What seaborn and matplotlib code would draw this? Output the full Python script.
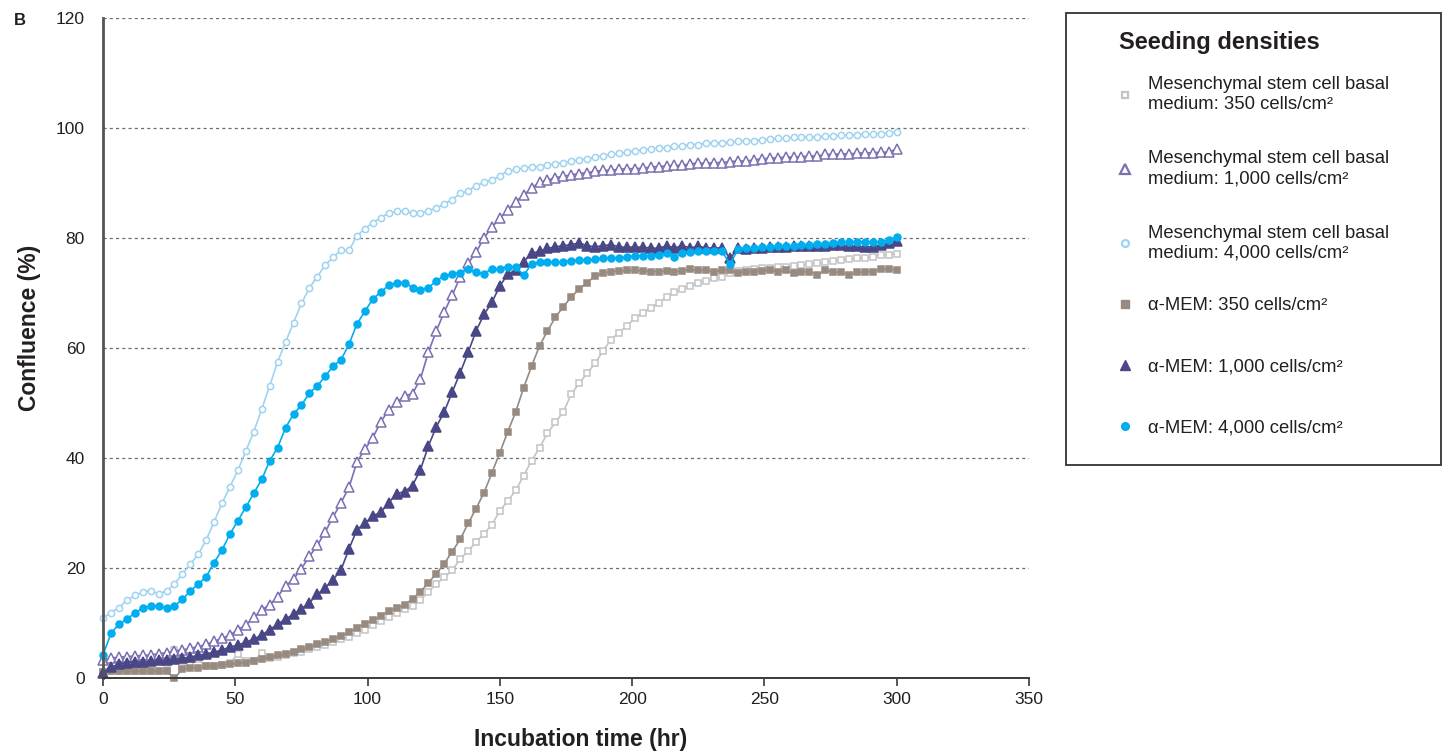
import numpy as np
import matplotlib
matplotlib.use("Agg")
import matplotlib.pyplot as plt
from matplotlib.lines import Line2D
from matplotlib.patches import Rectangle
import seaborn as sns

# sampling times (hr), one reading every 3 hours
hours = np.arange(0, 301, 3)

# Mesenchymal stem cell basal medium
msc_350 = [1.0, 1.2, 1.2, 1.2, 1.2, 1.2, 1.2, 1.3, 1.5, 5.0,
           2.0, 2.4, 3.4, 2.1, 2.2, 2.4, 2.8, 4.3, 3.0, 3.0,
           4.6, 3.6, 3.8, 4.2, 4.5, 4.8, 5.2, 5.6, 6.0, 6.5,
           7.0, 7.4, 8.1, 8.8, 9.6, 10.3, 11.1, 11.9, 12.5, 13.1,
           14.2, 15.7, 17.1, 18.3, 19.6, 21.6, 23.1, 24.7, 26.2, 27.9,
           30.4, 32.2, 34.1, 36.8, 39.5, 41.9, 44.5, 46.5, 48.4, 51.6,
           53.6, 55.4, 57.2, 59.5, 61.5, 62.8, 64.0, 65.4, 66.4, 67.3,
           68.2, 69.3, 70.1, 70.8, 71.3, 71.8, 72.2, 72.7, 73.0, 73.6,
           74.0, 74.2, 74.3, 74.5, 74.5, 74.7, 74.8, 75.0, 75.1, 75.2,
           75.4, 75.6, 75.8, 76.0, 76.1, 76.3, 76.4, 76.6, 77.0, 77.0,
           77.1]
msc_1000 = [3.3, 3.6, 3.8, 3.9, 4.0, 4.1, 4.2, 4.4, 4.6, 4.9,
            5.1, 5.4, 5.7, 6.1, 6.7, 7.2, 7.8, 8.8, 9.6, 11.0,
            12.4, 13.3, 14.8, 16.7, 18.0, 19.9, 22.1, 24.1, 26.6, 29.3,
            31.9, 34.7, 39.3, 41.6, 43.7, 46.6, 48.7, 50.1, 51.3, 51.7,
            54.4, 59.3, 63.1, 66.6, 69.6, 72.9, 75.4, 77.4, 80.0, 82.0,
            83.6, 85.1, 86.6, 87.8, 89.1, 90.1, 90.5, 91.0, 91.2, 91.5,
            91.7, 91.9, 92.1, 92.3, 92.3, 92.5, 92.6, 92.6, 92.7, 92.9,
            93.0, 93.1, 93.2, 93.2, 93.5, 93.6, 93.6, 93.7, 93.7, 93.9,
            94.0, 94.0, 94.2, 94.4, 94.5, 94.6, 94.7, 94.7, 94.8, 94.9,
            94.9, 95.2, 95.2, 95.3, 95.3, 95.4, 95.5, 95.5, 95.6, 95.6,
            96.2]
msc_4000 = [10.9, 11.9, 12.8, 14.1, 15.0, 15.6, 15.9, 15.3, 15.8, 17.1,
            18.9, 20.7, 22.5, 25.1, 28.4, 31.8, 34.8, 37.8, 41.3, 44.8,
            48.9, 53.1, 57.5, 61.1, 64.6, 68.1, 70.9, 73.0, 75.1, 76.5,
            77.8, 77.8, 80.4, 81.7, 82.8, 83.7, 84.5, 84.9, 84.9, 84.5,
            84.5, 85.0, 85.4, 86.2, 87.0, 88.1, 88.6, 89.5, 90.1, 90.5,
            91.3, 92.2, 92.5, 92.7, 93.0, 93.0, 93.3, 93.5, 93.7, 94.0,
            94.2, 94.4, 94.7, 95.0, 95.2, 95.4, 95.6, 95.9, 96.0, 96.2,
            96.4, 96.4, 96.7, 96.8, 97.0, 97.0, 97.2, 97.3, 97.3, 97.4,
            97.6, 97.7, 97.7, 97.9, 98.0, 98.1, 98.2, 98.3, 98.3, 98.4,
            98.4, 98.5, 98.6, 98.7, 98.7, 98.8, 98.9, 98.9, 99.0, 99.1,
            99.2]

# alpha-MEM
amem_350 = [1.0, 1.2, 1.2, 1.2, 1.2, 1.2, 1.2, 1.2, 1.2, 0.0,
            1.6, 1.8, 1.9, 2.1, 2.2, 2.4, 2.5, 2.7, 2.8, 3.1,
            3.4, 3.8, 4.1, 4.4, 4.8, 5.2, 5.7, 6.1, 6.6, 7.1,
            7.7, 8.4, 9.1, 9.9, 10.5, 11.3, 12.2, 12.7, 13.3, 14.4,
            15.7, 17.3, 19.0, 20.8, 23.0, 25.2, 28.1, 30.8, 33.7, 37.3,
            41.0, 44.8, 48.4, 52.8, 56.7, 60.4, 63.1, 65.6, 67.5, 69.3,
            70.7, 71.9, 73.1, 73.6, 73.9, 74.0, 74.1, 74.1, 74.0, 73.9,
            73.9, 74.0, 73.9, 74.0, 74.3, 74.1, 74.2, 73.9, 74.2, 74.2,
            73.6, 73.9, 73.8, 74.0, 74.1, 73.9, 74.1, 73.6, 73.8, 73.9,
            73.3, 74.1, 73.8, 73.8, 73.3, 73.8, 73.8, 73.9, 74.3, 74.3,
            74.2]
amem_1000 = [0.9, 2.0, 2.5, 2.8, 2.9, 2.9, 3.0, 3.2, 3.2, 3.5,
             3.6, 3.8, 4.1, 4.4, 4.7, 5.1, 5.6, 6.0, 6.5, 7.1,
             7.8, 8.8, 9.8, 10.7, 11.6, 12.6, 13.7, 15.2, 16.4, 17.9,
             19.7, 23.5, 27.0, 28.1, 29.5, 30.1, 31.9, 33.5, 33.9, 35.0,
             37.9, 42.2, 45.7, 48.4, 52.0, 55.5, 59.2, 63.1, 66.1, 68.3,
             71.3, 73.4, 74.2, 75.7, 77.2, 77.6, 78.1, 78.4, 78.6, 78.8,
             79.1, 78.6, 78.4, 78.6, 78.8, 78.4, 78.3, 78.4, 78.3, 78.2,
             78.1, 78.6, 78.2, 78.6, 78.2, 78.5, 78.2, 78.2, 78.2, 76.3,
             78.1, 78.0, 78.1, 78.1, 78.4, 78.4, 78.4, 78.5, 78.6, 78.5,
             78.6, 78.6, 78.7, 78.7, 78.6, 78.5, 78.4, 78.4, 78.7, 79.1,
             79.5]
amem_4000 = [4.2, 8.1, 9.8, 10.7, 11.8, 12.7, 13.1, 13.1, 12.8, 13.1,
             14.3, 15.8, 17.1, 18.4, 21.0, 23.3, 26.2, 28.6, 31.1, 33.6,
             36.1, 39.5, 41.9, 45.5, 48.0, 49.6, 51.8, 53.1, 54.9, 56.7,
             57.9, 60.7, 64.4, 66.7, 68.9, 70.2, 71.4, 71.9, 71.9, 71.0,
             70.6, 71.0, 72.2, 73.1, 73.5, 73.7, 74.4, 73.8, 73.5, 74.4,
             74.4, 74.8, 74.8, 73.2, 75.3, 75.6, 75.6, 75.6, 75.7, 75.9,
             76.0, 76.0, 76.1, 76.4, 76.4, 76.4, 76.6, 76.8, 76.8, 76.8,
             76.9, 77.2, 76.5, 77.2, 77.4, 77.6, 77.6, 77.6, 77.6, 75.2,
             78.0, 78.1, 78.1, 78.4, 78.4, 78.5, 78.5, 78.5, 78.8, 78.8,
             78.9, 79.0, 79.1, 79.2, 79.2, 79.3, 79.3, 79.3, 79.3, 79.7,
             80.1]

labels = ["Mesenchymal stem cell basal\nmedium: 350 cells/cm\u00b2",
          "Mesenchymal stem cell basal\nmedium: 1,000 cells/cm\u00b2",
          "Mesenchymal stem cell basal\nmedium: 4,000 cells/cm\u00b2",
          "\u03b1-MEM: 350 cells/cm\u00b2",
          "\u03b1-MEM: 1,000 cells/cm\u00b2",
          "\u03b1-MEM: 4,000 cells/cm\u00b2"]
series = [msc_350, msc_1000, msc_4000, amem_350, amem_1000, amem_4000]

# colour, marker, filled?, marker size
styles = [("#c4c4c4", "s", False, 4.5),
          ("#7a70b2", "^", False, 6.5),
          ("#9fd3f1", "o", False, 4.5),
          ("#978a80", "s", True, 5.0),
          ("#4a4786", "^", True, 7.0),
          ("#00aeef", "o", True, 5.0)]

sns.set_style("white")
plt.rcParams["font.family"] = ["Liberation Sans", "DejaVu Sans"]
text_col = "#231f20"

fig = plt.figure(figsize=(14.45, 7.54), dpi=100)
ax = fig.add_axes([0.0713, 0.1008, 0.6408, 0.8753])

handles = []
for vals, lab, (col, mk, filled, ms) in zip(series, labels, styles):
    face = col if filled else "white"
    sns.lineplot(x=hours, y=vals, ax=ax, color=col, linewidth=1.2,
                 marker=mk, markersize=ms, markerfacecolor=face,
                 markeredgecolor=col, markeredgewidth=1.1,
                 estimator=None, clip_on=False, legend=False)
    handles.append(Line2D([], [], linestyle="none", marker=mk, markersize=ms + 0.5,
                          markerfacecolor=face, markeredgecolor=col,
                          markeredgewidth=1.6 if not filled else 1.0))

ax.set_xlim(0, 350)
ax.set_ylim(0, 120)
ax.set_xticks(range(0, 351, 50))
ax.set_yticks(range(0, 121, 20))
ax.yaxis.grid(True, linestyle=(0, (2.5, 2.5)), color="#6d6d6d", linewidth=0.9)
ax.xaxis.grid(False)
ax.set_axisbelow(True)

for side in ["top", "right"]:
    ax.spines[side].set_visible(False)
ax.spines["left"].set_color("#555555")
ax.spines["left"].set_linewidth(2.0)
ax.spines["bottom"].set_color("#3a3a3a")
ax.spines["bottom"].set_linewidth(1.4)

ax.tick_params(axis="x", direction="out", length=6, width=1.2, color="#3a3a3a",
               labelsize=12.5, labelcolor=text_col, pad=4, bottom=True)
ax.tick_params(axis="y", length=0, labelsize=12.5, labelcolor=text_col, pad=13)

ax.set_xlabel("Incubation time (hr)", fontsize=16.5, fontweight="bold",
              color=text_col, labelpad=15, x=0.516)
ax.set_ylabel("Confluence (%)", fontsize=16.5, fontweight="bold",
              color=text_col, labelpad=11, y=0.53)

fig.text(0.0095, 0.973, "B", fontsize=12, fontweight="bold", color=text_col, va="center")

# legend box and title
fig.patches.append(Rectangle((1066 / 1445, 1 - 465 / 754), 375 / 1445, 452 / 754,
                             transform=fig.transFigure, fill=False,
                             edgecolor="#333333", linewidth=1.3))
fig.text(1119 / 1445, 1 - 42 / 754, "Seeding densities", fontsize=17,
         fontweight="bold", color=text_col, va="center", ha="left")

# two legend blocks: the two-line entries and the one-line entries
leg_kw = dict(loc="upper left", bbox_transform=fig.transFigure, frameon=False,
              fontsize=13.3, borderpad=0, handlelength=0.8, handletextpad=0.85)
leg1 = ax.legend(handles[:3], labels[:3], bbox_to_anchor=(1108 / 1445, 1 - 67 / 754),
                 labelspacing=2.0, **leg_kw)
ax.add_artist(leg1)
leg2 = ax.legend(handles[3:], labels[3:], bbox_to_anchor=(1108 / 1445, 1 - 288 / 754),
                 labelspacing=2.4, **leg_kw)
for leg in (leg1, leg2):
    for t in leg.get_texts():
        t.set_color(text_col)
        t.set_linespacing(1.25)

fig.savefig("out.png", dpi=100)
